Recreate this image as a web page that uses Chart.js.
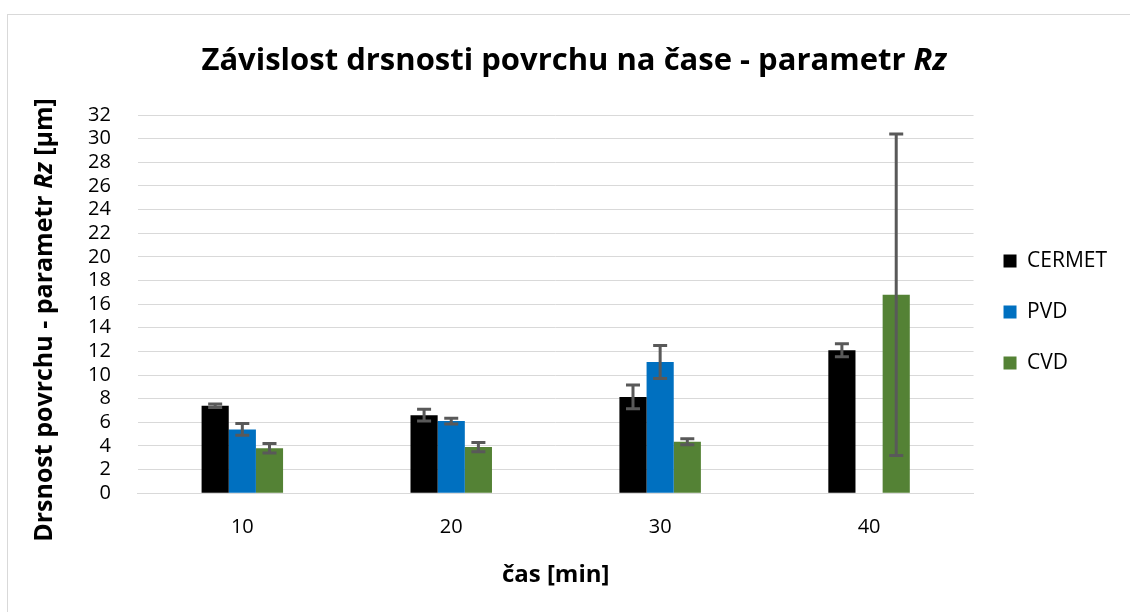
<!DOCTYPE html>
<html>
<head>
<meta charset="utf-8">
<script src="https://cdn.jsdelivr.net/npm/chart.js@4.4.1/dist/chart.umd.min.js"></script>
<style>
  html, body { margin: 0; padding: 0; background: #ffffff; }
  #wrap { position: relative; width: 1130px; height: 612px; }
</style>
</head>
<body>
<div id="wrap"><canvas id="c" width="1130" height="612"></canvas></div>
<script>
const categories = ['10', '20', '30', '40'];
const seriesNames = ['CERMET', 'PVD', 'CVD'];
const cermetValues = [7.4, 6.6, 8.15, 12.1];
const cermetErrors = [0.15, 0.5, 1.0, 0.55];
const pvdValues = [5.4, 6.1, 11.1, null];
const pvdErrors = [0.5, 0.25, 1.4, null];
const cvdValues = [3.8, 3.9, 4.35, 16.8];
const cvdErrors = [0.4, 0.4, 0.25, 13.6];
const yTicks = [0, 2, 4, 6, 8, 10, 12, 14, 16, 18, 20, 22, 24, 26, 28, 30, 32];

const titleRuns = [['Závislost drsnosti povrchu na čase - parametr ', false], ['Rz', true]];
const yTitleRuns = [['Drsnost povrchu - parametr ', false], ['Rz', true], [' [µm]', false]];
const xTitle = 'čas [min]';

const FONT = '"Open Sans", "DejaVu Sans", sans-serif';
const colors = ['#000000', '#0070C0', '#548235'];
const errorsBySeries = [cermetErrors, pvdErrors, cvdErrors];
const valuesBySeries = [cermetValues, pvdValues, cvdValues];

function drawRuns(ctx, runs, size, cx, cy) {
  const widths = runs.map(r => {
    ctx.font = (r[1] ? 'italic ' : '') + 'bold ' + size + 'px ' + FONT;
    return ctx.measureText(r[0]).width;
  });
  const total = widths.reduce((a, b) => a + b, 0);
  let x = cx - total / 2;
  ctx.textBaseline = 'middle';
  ctx.textAlign = 'left';
  ctx.fillStyle = '#000000';
  runs.forEach((r, i) => {
    ctx.font = (r[1] ? 'italic ' : '') + 'bold ' + size + 'px ' + FONT;
    ctx.fillText(r[0], x, cy);
    x += widths[i];
  });
}

const decorPlugin = {
  id: 'decor',
  beforeDraw(chart) {
    const ctx = chart.ctx;
    ctx.save();
    ctx.fillStyle = '#ffffff';
    ctx.fillRect(0, 0, chart.width, chart.height);
    ctx.strokeStyle = '#d9d9d9';
    ctx.lineWidth = 1;
    ctx.strokeRect(7.5, 14.5, 1200, 700);
    ctx.restore();
  },
  afterDraw(chart) {
    const ctx = chart.ctx;
    ctx.save();
    drawRuns(ctx, titleRuns, 31, 574, 61);
    ctx.translate(45, 320);
    ctx.rotate(-Math.PI / 2);
    drawRuns(ctx, yTitleRuns, 25, 0, 0);
    ctx.restore();
  }
};

const errorBarPlugin = {
  id: 'errorBars',
  afterDatasetsDraw(chart) {
    const ctx = chart.ctx;
    const y = chart.scales.y;
    ctx.save();
    ctx.strokeStyle = '#595959';
    ctx.lineWidth = 3;
    chart.data.datasets.forEach((ds, di) => {
      const meta = chart.getDatasetMeta(di);
      const errs = errorsBySeries[di];
      meta.data.forEach((bar, i) => {
        const v = ds.data[i];
        const e = errs[i];
        if (v == null || e == null) return;
        const yHi = y.getPixelForValue(v + e);
        const yLo = y.getPixelForValue(v - e);
        const x = bar.x;
        const cap = 7;
        ctx.beginPath();
        ctx.moveTo(x, yHi); ctx.lineTo(x, yLo);
        ctx.moveTo(x - cap, yHi); ctx.lineTo(x + cap, yHi);
        ctx.moveTo(x - cap, yLo); ctx.lineTo(x + cap, yLo);
        ctx.stroke();
      });
    });
    ctx.restore();
  }
};

new Chart(document.getElementById('c'), {
  type: 'bar',
  data: {
    labels: categories,
    datasets: seriesNames.map((name, i) => ({
      label: name,
      data: valuesBySeries[i],
      backgroundColor: colors[i],
      borderWidth: 0,
      categoryPercentage: 0.39,
      barPercentage: 1.0
    }))
  },
  options: {
    responsive: false,
    animation: false,
    layout: { padding: { top: 115, left: 61, right: 13, bottom: 0 } },
    plugins: {
      title: { display: false },
      tooltip: { enabled: false },
      legend: {
        position: 'right',
        align: 'center',
        fullSize: false,
        title: { display: true, text: ' ', font: { size: 10 }, padding: 2 },
        labels: {
          boxWidth: 13,
          boxHeight: 13,
          padding: 30,
          color: '#000000',
          font: { family: FONT, size: 21 }
        }
      }
    },
    scales: {
      x: {
        grid: { display: false, drawTicks: false },
        border: { color: '#d9d9d9', width: 1 },
        ticks: { color: '#000000', font: { family: FONT, size: 20 }, padding: 22 },
        title: {
          display: true,
          text: xTitle,
          color: '#000000',
          font: { family: FONT, size: 24, weight: 'bold' },
          padding: { top: 0, bottom: 22 }
        }
      },
      y: {
        min: 0,
        max: 32,
        afterBuildTicks(scale) { scale.ticks = yTicks.map(v => ({ value: v })); },
        grid: { color: '#d9d9d9', lineWidth: 1, drawTicks: false },
        border: { display: false },
        ticks: { color: '#000000', font: { family: FONT, size: 20 }, padding: 27, autoSkip: false }
      }
    }
  },
  plugins: [decorPlugin, errorBarPlugin]
});
</script>
</body>
</html>
